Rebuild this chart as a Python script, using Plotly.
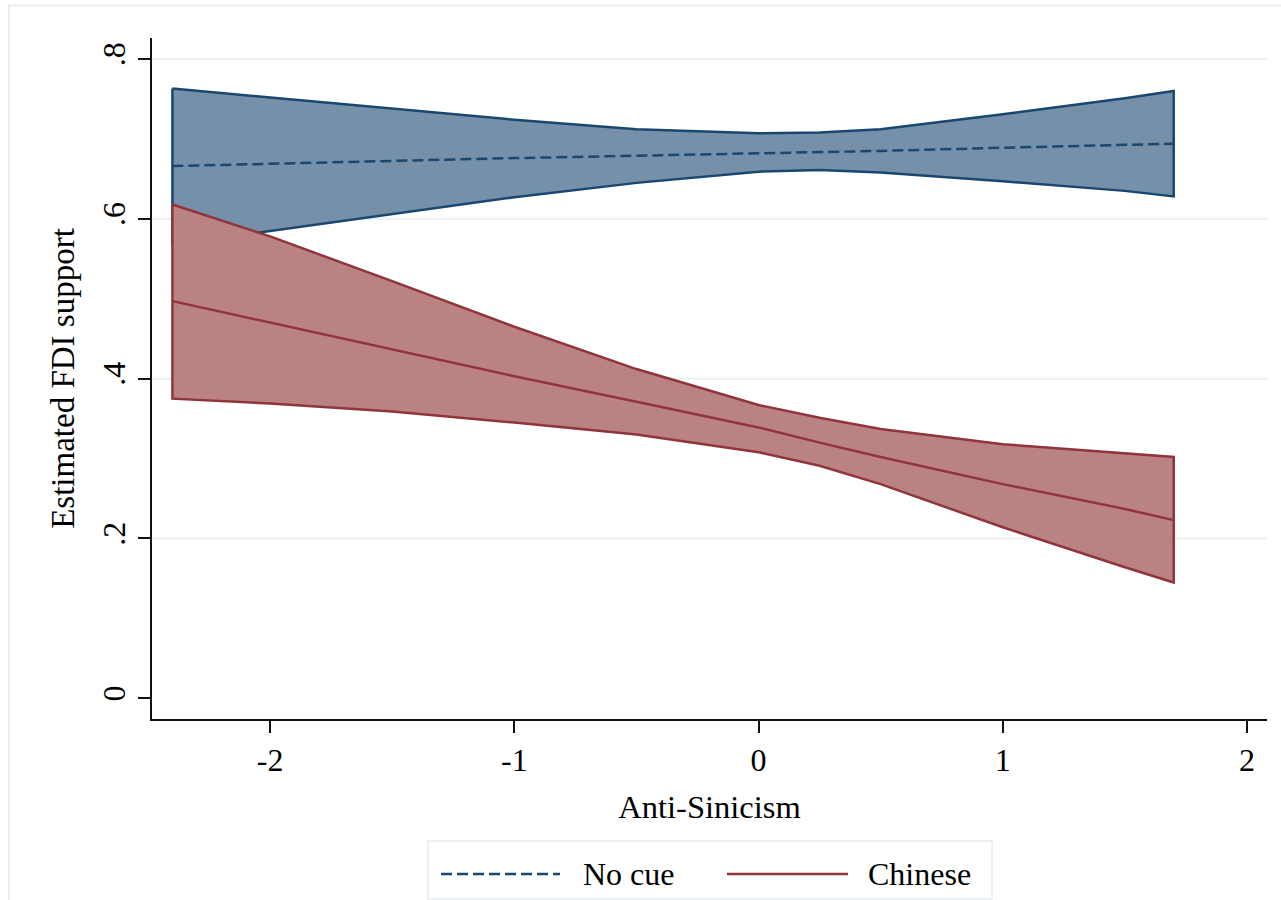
import plotly.graph_objects as go

# Anti-Sinicism grid at which predictions were evaluated
anti_sinicism = [-2.4, -2.0, -1.5, -1.0, -0.5, 0.0, 0.25, 0.5, 1.0, 1.5, 1.7]

# No cue: predicted FDI support with 95% CI
nocue_mean  = [0.666, 0.669, 0.672, 0.676, 0.679, 0.682, 0.684, 0.685, 0.689, 0.692, 0.694]
nocue_upper = [0.763, 0.752, 0.738, 0.724, 0.712, 0.707, 0.708, 0.712, 0.731, 0.751, 0.760]
nocue_lower = [0.568, 0.585, 0.606, 0.627, 0.645, 0.659, 0.661, 0.658, 0.647, 0.635, 0.628]

# Chinese cue: predicted FDI support with 95% CI
chinese_mean  = [0.497, 0.470, 0.436, 0.403, 0.371, 0.339, 0.320, 0.302, 0.268, 0.237, 0.223]
chinese_upper = [0.618, 0.578, 0.522, 0.465, 0.412, 0.367, 0.351, 0.337, 0.318, 0.307, 0.302]
chinese_lower = [0.375, 0.369, 0.359, 0.345, 0.330, 0.308, 0.291, 0.268, 0.214, 0.164, 0.145]

x_ticks = [-2, -1, 0, 1, 2]
x_ticktext = ["-2", "-1", "0", "1", "2"]
y_ticks = [0, 0.2, 0.4, 0.6, 0.8]
y_ticktext = ["0", ".2", ".4", ".6", ".8"]

series_names = ["No cue", "Chinese"]

NAVY = "#1a476f"
NAVY_FILL = "#7590a8"
MAROON = "#90353b"
MAROON_FILL = "#bb8284"
FONT = "Liberation Serif"
LW = 2.5

W, H = 1281, 900
L, R, T, B = 152, 14, 38, 181
PW, PH = W - L - R, H - T - B


def px_to_paper_x(px):
    return (px - L) / PW


def py_to_paper_y(py):
    return (H - B - py) / PH


def band(x, lo, hi, line_color, fill_color):
    xs = list(x) + list(reversed(x)) + [x[0]]
    ys = list(hi) + list(reversed(lo)) + [hi[0]]
    return go.Scatter(
        x=xs, y=ys, mode="lines", fill="toself",
        fillcolor=fill_color,
        line=dict(color=line_color, width=LW),
        hoverinfo="skip", showlegend=False,
    )


fig = go.Figure()
fig.add_trace(band(anti_sinicism, nocue_lower, nocue_upper, NAVY, NAVY_FILL))
fig.add_trace(go.Scatter(
    x=anti_sinicism, y=nocue_mean, mode="lines", name=series_names[0],
    line=dict(color=NAVY, width=LW, dash="11px,5px"), showlegend=False,
))
fig.add_trace(band(anti_sinicism, chinese_lower, chinese_upper, MAROON, MAROON_FILL))
fig.add_trace(go.Scatter(
    x=anti_sinicism, y=chinese_mean, mode="lines", name=series_names[1],
    line=dict(color=MAROON, width=LW), showlegend=False,
))

shapes = []
# horizontal grid lines (none at zero)
for yv in y_ticks[1:]:
    shapes.append(dict(
        type="line", xref="paper", yref="y", x0=0, x1=1, y0=yv, y1=yv,
        line=dict(color="#eaf0f3", width=2), layer="below",
    ))
# outer graph region frame
shapes.append(dict(
    type="rect", xref="paper", yref="paper",
    x0=px_to_paper_x(9), x1=px_to_paper_x(1300),
    y0=py_to_paper_y(920), y1=py_to_paper_y(5.5),
    line=dict(color="#e8eef1", width=2), layer="below",
))
# legend box
shapes.append(dict(
    type="rect", xref="paper", yref="paper",
    x0=px_to_paper_x(428), x1=px_to_paper_x(992),
    y0=py_to_paper_y(899), y1=py_to_paper_y(841),
    line=dict(color="#e6edf1", width=1.5), fillcolor="white", layer="below",
))
key_y = py_to_paper_y(874)
shapes.append(dict(
    type="line", xref="paper", yref="paper",
    x0=px_to_paper_x(441), x1=px_to_paper_x(560), y0=key_y, y1=key_y,
    line=dict(color=NAVY, width=LW, dash="11px,5px"),
))
shapes.append(dict(
    type="line", xref="paper", yref="paper",
    x0=px_to_paper_x(727), x1=px_to_paper_x(848), y0=key_y, y1=key_y,
    line=dict(color=MAROON, width=LW),
))

annotations = [
    dict(text=series_names[0], xref="paper", yref="paper",
         x=px_to_paper_x(581), y=key_y, xanchor="left", yanchor="middle",
         showarrow=False, font=dict(family=FONT, size=32, color="black")),
    dict(text=series_names[1], xref="paper", yref="paper",
         x=px_to_paper_x(866), y=key_y, xanchor="left", yanchor="middle",
         showarrow=False, font=dict(family=FONT, size=32, color="black")),
]

fig.update_layout(
    width=W, height=H,
    margin=dict(l=L, r=R, t=T, b=B, pad=0),
    paper_bgcolor="white", plot_bgcolor="white",
    shapes=shapes, annotations=annotations,
    showlegend=False,
    font=dict(family=FONT, color="black"),
)

fig.update_xaxes(
    range=[-2.4836, 2.082], tickvals=x_ticks, ticktext=x_ticktext,
    showgrid=False, zeroline=False,
    showline=True, linecolor="#111111", linewidth=2,
    ticks="outside", ticklen=12, tickwidth=1.5, tickcolor="#111111",
    tickfont=dict(family=FONT, size=32, color="black"),
    title=dict(text="Anti-Sinicism", font=dict(family=FONT, size=32.5, color="black"),
               standoff=18),
)
fig.update_yaxes(
    range=[-0.0259, 0.8263], tickvals=y_ticks, ticktext=y_ticktext,
    showgrid=False, zeroline=False,
    showline=True, linecolor="#111111", linewidth=2,
    ticks="outside", ticklen=12, tickwidth=1.5, tickcolor="#111111",
    tickangle=-90,
    tickfont=dict(family=FONT, size=32, color="black"),
    title=dict(text="Estimated FDI support", font=dict(family=FONT, size=33, color="black"),
               standoff=12),
)

fig.write_html("out.html")
